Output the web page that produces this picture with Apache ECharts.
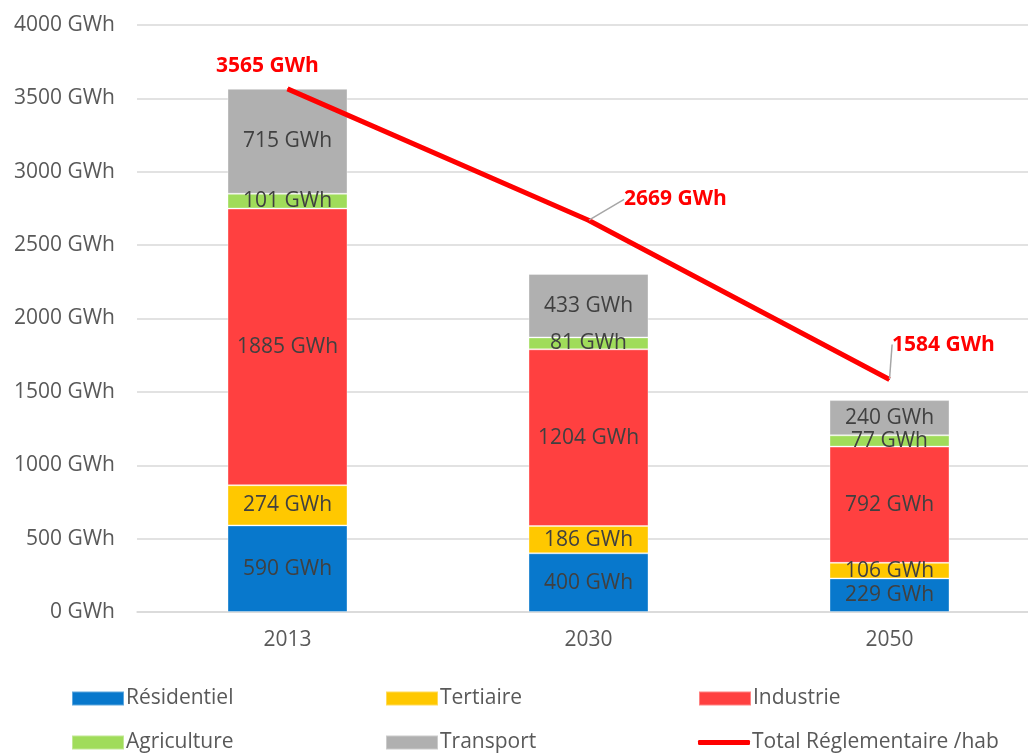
<!DOCTYPE html>
<html>
<head>
<meta charset="utf-8">
<script src="https://cdn.jsdelivr.net/npm/echarts@6/dist/echarts.min.js"></script>
<style>
  html, body { margin: 0; padding: 0; background: #fff; }
  #chart { width: 1028px; height: 754px; }
</style>
</head>
<body>
<div id="chart"></div>
<script>
// Consommation d'énergie par secteur
const years = ['2013', '2030', '2050'];
const residentiel = [590, 400, 229];
const tertiaire = [274, 186, 106];
const industrie = [1885, 1204, 792];
const agriculture = [101, 81, 77];
const transport = [715, 433, 240];
const totalReglementaire = [3565, 2669, 1584];

const FONT = '"Open Sans", "Noto Sans", sans-serif';
const TXT = '#595959';
const SIZE = 21;
const gwh = v => v + ' GWh';

function barSeries(name, data, color) {
  return {
    name: name,
    type: 'bar',
    stack: 'total',
    data: data,
    barWidth: 120,
    itemStyle: { color: color, borderColor: 'rgba(255,255,255,0.35)', borderWidth: 1 },
    label: {
      show: true,
      position: 'inside',
      formatter: p => gwh(p.value),
      color: '#404040',
      fontFamily: FONT,
      fontSize: SIZE
    }
  };
}

// label offsets of the total line, relative to its default 'top' position
const totalLabelShift = [[-20, -7], [87, -5], [54, -19]];

function legendItem(name, left, top, isLine) {
  return {
    left: left,
    top: top,
    itemWidth: 52,
    itemHeight: isLine ? 5 : 14,
    itemGap: 0,
    data: [isLine ? { name: name, icon: 'roundRect' } : { name: name, icon: 'rect' }],
    textStyle: { color: TXT, fontFamily: FONT, fontSize: SIZE, padding: [0, 0, 0, -3] },
    selectedMode: false
  };
}

const chart = echarts.init(document.getElementById('chart'));
chart.setOption({
  animation: false,
  grid: { left: 137, top: 25, width: 903, bottom: 142, outerBoundsMode: 'none', containLabel: false },
  legend: [
    legendItem('Résidentiel', 66, 683, false),
    legendItem('Tertiaire', 380, 683, false),
    legendItem('Industrie', 693, 683, false),
    legendItem('Agriculture', 66, 727, false),
    legendItem('Transport', 380, 727, false),
    legendItem('Total Réglementaire /hab', 693, 727, true)
  ],
  xAxis: {
    type: 'category',
    data: years,
    axisLine: { lineStyle: { color: '#D9D9D9', width: 1.5 } },
    axisTick: { show: false },
    axisLabel: { color: TXT, fontFamily: FONT, fontSize: SIZE, margin: 18 }
  },
  yAxis: {
    type: 'value',
    min: 0,
    max: 4000,
    interval: 500,
    axisLine: { show: false },
    axisTick: { show: false },
    splitLine: { lineStyle: { color: '#D9D9D9', width: 1.5 } },
    axisLabel: {
      formatter: v => gwh(v),
      color: TXT,
      fontFamily: FONT,
      fontSize: SIZE,
      margin: 22
    }
  },
  series: [
    barSeries('Résidentiel', residentiel, '#0878CC'),
    barSeries('Tertiaire', tertiaire, '#FFC800'),
    barSeries('Industrie', industrie, '#FF4040'),
    barSeries('Agriculture', agriculture, '#A0DC5A'),
    barSeries('Transport', transport, '#B0B0B0'),
    {
      name: 'Total Réglementaire /hab',
      type: 'line',
      data: totalReglementaire.map((v, i) => ({
        value: v,
        labelLine: { show: i > 0 }
      })),
      symbol: 'circle',
      symbolSize: 1,
      showSymbol: true,
      lineStyle: { color: '#FF0000', width: 5 },
      itemStyle: { color: '#FF0000' },
      z: 5,
      label: {
        show: true,
        position: 'top',
        formatter: p => gwh(p.value),
        color: '#FF0000',
        fontWeight: 'bold',
        fontFamily: FONT,
        fontSize: SIZE
      },
      labelLine: {
        show: true,
        lineStyle: { color: '#A6A6A6', width: 1.5 }
      },
      labelLayout: params => ({
        dx: totalLabelShift[params.dataIndex][0],
        dy: totalLabelShift[params.dataIndex][1]
      })
    }
  ]
});
</script>
</body>
</html>
